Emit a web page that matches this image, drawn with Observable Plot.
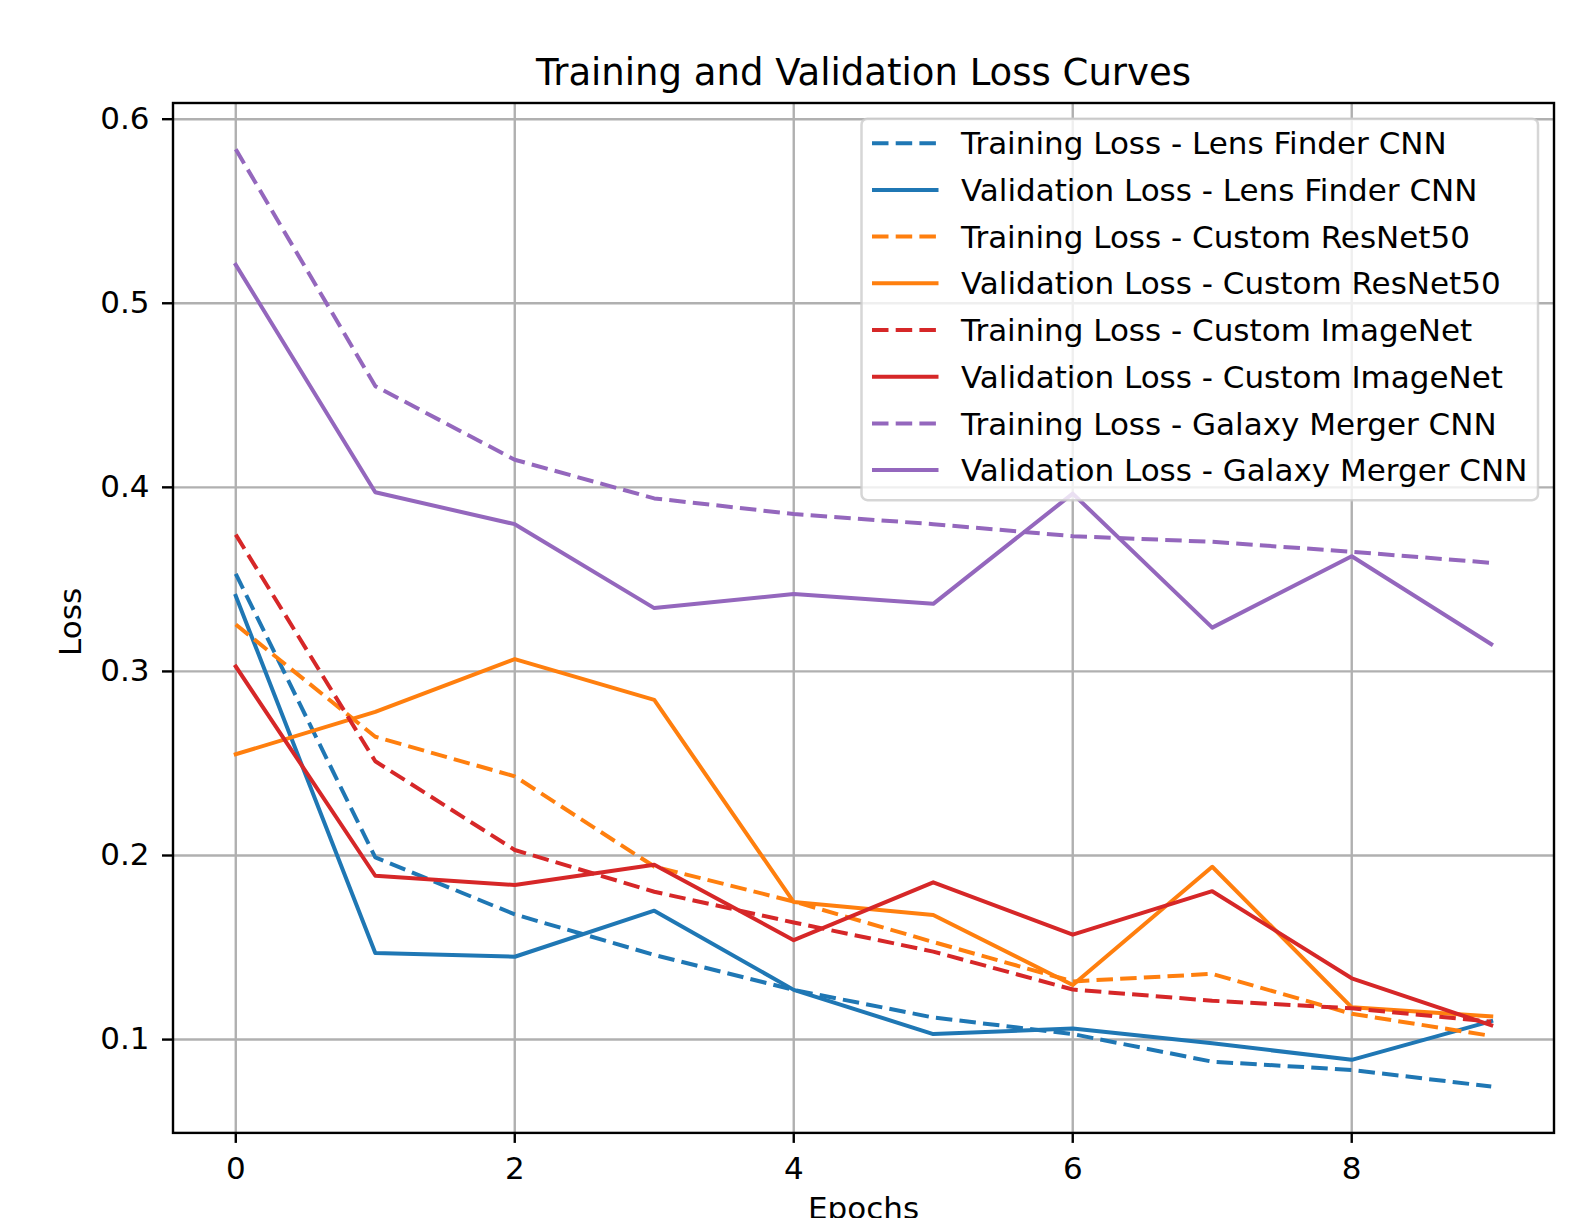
<!DOCTYPE html>
<html>
<head>
<meta charset="utf-8">
<script src="https://cdn.jsdelivr.net/npm/d3@7"></script>
<script src="https://cdn.jsdelivr.net/npm/@observablehq/plot@0.6"></script>
<style>
  html, body { margin: 0; padding: 0; background: #ffffff; }
  #chart { width: 1591px; height: 1218px; overflow: hidden; }
</style>
</head>
<body>
<div id="chart"></div>
<script>
const epochs = [0, 1, 2, 3, 4, 5, 6, 7, 8, 9];
const seriesNames = [
  "Training Loss - Lens Finder CNN",
  "Validation Loss - Lens Finder CNN",
  "Training Loss - Custom ResNet50",
  "Validation Loss - Custom ResNet50",
  "Training Loss - Custom ImageNet",
  "Validation Loss - Custom ImageNet",
  "Training Loss - Galaxy Merger CNN",
  "Validation Loss - Galaxy Merger CNN"
];
const trainLens     = [0.353, 0.199, 0.168, 0.146, 0.127, 0.112, 0.103, 0.088, 0.0835, 0.0745];
const valLens       = [0.341, 0.147, 0.145, 0.170, 0.127, 0.103, 0.106, 0.098, 0.089, 0.110];
const trainResNet   = [0.3255, 0.2645, 0.243, 0.194, 0.175, 0.153, 0.1316, 0.1357, 0.114, 0.102];
const valResNet     = [0.255, 0.278, 0.3067, 0.2845, 0.1747, 0.1677, 0.1296, 0.1939, 0.1175, 0.1126];
const trainImageNet = [0.3743, 0.2512, 0.203, 0.1803, 0.1636, 0.1478, 0.1272, 0.1211, 0.117, 0.1097];
const valImageNet   = [0.3027, 0.189, 0.184, 0.195, 0.154, 0.1854, 0.157, 0.1806, 0.1333, 0.1078];
const trainGalaxy   = [0.5837, 0.455, 0.415, 0.394, 0.3855, 0.380, 0.3735, 0.3704, 0.365, 0.359];
const valGalaxy     = [0.5209, 0.3973, 0.380, 0.3344, 0.342, 0.3367, 0.3966, 0.3238, 0.3626, 0.3148];
const seriesValues = [trainLens, valLens, trainResNet, valResNet, trainImageNet, valImageNet, trainGalaxy, valGalaxy];
const seriesColors = ["#1f77b4", "#1f77b4", "#ff7f0e", "#ff7f0e", "#d62728", "#d62728", "#9467bd", "#9467bd"];
const seriesDashed = [true, false, true, false, true, false, true, false];
const xTicks = [0, 2, 4, 6, 8];
const yTicks = [0.1, 0.2, 0.3, 0.4, 0.5, 0.6];

const rows = seriesNames.flatMap((name, i) =>
  epochs.map((e, j) => ({series: name, idx: i, epoch: e, loss: seriesValues[i][j]}))
);

const DASH = "16.5,7.2";
const LW = 4;
const FONT = "'DejaVu Sans', sans-serif";

const lineMarks = seriesNames.map((name, i) =>
  Plot.line(rows.filter(d => d.idx === i), {
    x: "epoch", y: "loss",
    stroke: seriesColors[i],
    strokeWidth: LW,
    strokeDasharray: seriesDashed[i] ? DASH : null,
    strokeLinejoin: "round",
    strokeLinecap: seriesDashed[i] ? "butt" : "square"
  })
);

const plot = Plot.plot({
  width: 1591,
  height: 1218,
  marginLeft: 172.5,
  marginRight: 37.5,
  marginTop: 102.5,
  marginBottom: 85.6,
  style: {fontFamily: FONT, fontSize: "31px", background: "#ffffff", color: "#000000"},
  x: {domain: [-0.45, 9.45], ticks: xTicks},
  y: {domain: [0.0493, 0.6088], ticks: yTicks},
  marks: [
    Plot.gridX(xTicks, {stroke: "#b0b0b0", strokeOpacity: 1, strokeWidth: 2.4}),
    Plot.gridY(yTicks, {stroke: "#b0b0b0", strokeOpacity: 1, strokeWidth: 2.4}),
    ...lineMarks,
    Plot.frame({stroke: "#000000", strokeWidth: 2.4}),
    Plot.axisX(xTicks, {
      tickSize: 10.5, tickPadding: 14, strokeWidth: 2.4,
      tickFormat: d3.format("d"), fontSize: 31, label: null
    }),
    Plot.axisY(yTicks, {
      tickSize: 10.5, tickPadding: 13, strokeWidth: 2.4,
      tickFormat: d3.format(".1f"), fontSize: 31, label: null
    }),
    Plot.text(["Training and Validation Loss Curves"], {
      frameAnchor: "top", dy: -18, lineAnchor: "bottom", fontSize: 37, fill: "#000000"
    }),
    Plot.text(["Epochs"], {
      frameAnchor: "bottom", dy: 86, lineAnchor: "bottom", fontSize: 31, fill: "#000000"
    }),
    Plot.text(["Loss"], {
      frameAnchor: "left", dx: -101.5, dy: 4, rotate: -90, textAnchor: "middle",
      lineAnchor: "middle", fontSize: 31, fill: "#000000"
    })
  ]
});

// Legend (upper right, inside the axes)
const svg = d3.select(plot);
const frameRight = 1591 - 37.5;
const frameTop = 102.5;
const lgW = 676.5, lgH = 381.5;
const lgX = frameRight - 15.5 - lgW;
const lgY = frameTop + 16.2;
const lg = svg.append("g").attr("class", "legend");
lg.append("rect")
  .attr("x", lgX).attr("y", lgY)
  .attr("width", lgW).attr("height", lgH)
  .attr("rx", 6).attr("ry", 6)
  .attr("fill", "#ffffff").attr("fill-opacity", 0.8)
  .attr("stroke", "#cccccc").attr("stroke-opacity", 0.8).attr("stroke-width", 2.5);
seriesNames.forEach((name, i) => {
  const cy = lgY + 24.5 + i * 46.7;
  lg.append("line")
    .attr("x1", lgX + 10.5).attr("x2", lgX + 77)
    .attr("y1", cy).attr("y2", cy)
    .attr("stroke", seriesColors[i]).attr("stroke-width", LW)
    .attr("stroke-dasharray", seriesDashed[i] ? DASH : null);
  lg.append("text")
    .attr("x", lgX + 99.5).attr("y", cy)
    .attr("dy", "0.36em")
    .attr("text-anchor", "start")
    .attr("font-family", FONT)
    .attr("font-size", 31)
    .attr("fill", "#000000")
    .text(name);
});

document.getElementById("chart").appendChild(plot);
</script>
</body>
</html>
